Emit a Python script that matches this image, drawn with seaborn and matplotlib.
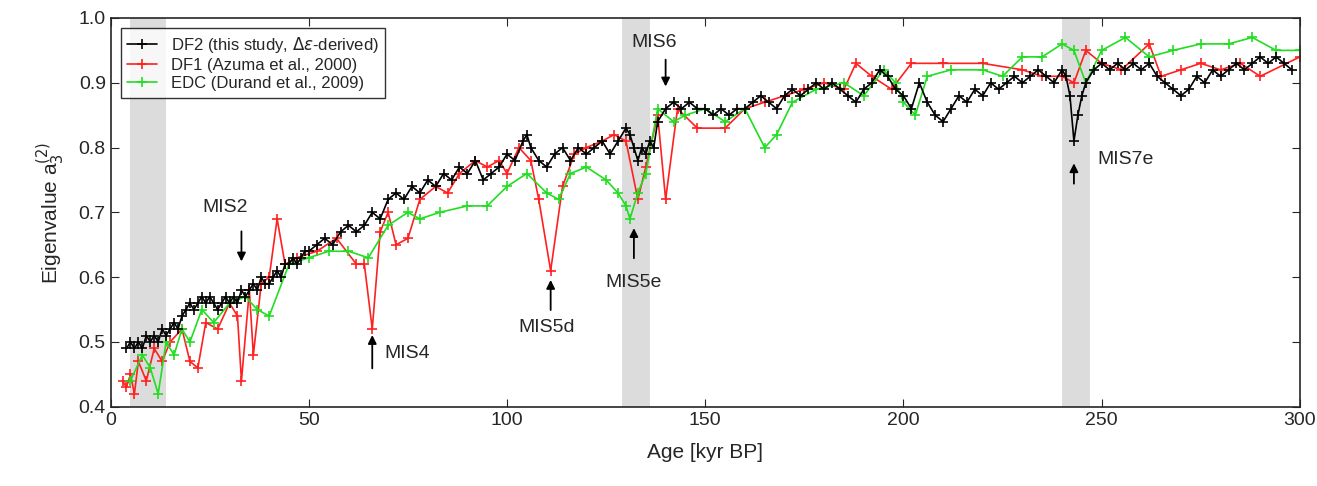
import pandas as pd
import matplotlib.pyplot as plt
import seaborn as sns

# DF2 (dense record)
df2_age = [4, 5, 6, 7, 8, 9, 10, 11, 12, 13, 14, 15, 16, 17, 18, 19, 20, 21, 22, 23, 24, 25, 26, 27, 28, 29, 30,
           31, 32, 33, 34, 35, 36, 37, 38, 39, 40, 41, 42, 43, 44, 45, 46, 47, 48, 49, 50, 52, 54, 56, 58, 60,
           62, 64, 66, 68, 70, 72, 74, 76, 78, 80, 82, 84, 86, 88, 90, 92, 94, 96, 98, 100, 102, 104, 105, 106,
           108, 110, 112, 114, 116, 118, 120, 122, 124, 126, 128, 130, 131, 132, 133, 134, 135, 136, 137, 138,
           140, 142, 144, 146, 148, 150, 152, 154, 156, 158, 160, 162, 164, 166, 168, 170, 172, 174, 176, 178,
           180, 182, 184, 186, 188, 190, 192, 194, 196, 198, 200, 202, 204, 206, 208, 210, 212, 214, 216, 218,
           220, 222, 224, 226, 228, 230, 232, 234, 236, 238, 240, 241, 242, 243, 244, 245, 246, 248, 250, 252,
           254, 256, 258, 260, 262, 264, 266, 268, 270, 272, 274, 276, 278, 280, 282, 284, 286, 288, 290, 292,
           294, 296, 298]
df2_val = [0.49, 0.50, 0.49, 0.50, 0.49, 0.51, 0.50, 0.51, 0.50, 0.52, 0.51, 0.52, 0.53, 0.52, 0.54, 0.55, 0.56,
           0.55, 0.56, 0.57, 0.56, 0.57, 0.56, 0.55, 0.56, 0.57, 0.56, 0.57, 0.56, 0.58, 0.57, 0.58, 0.59, 0.58,
           0.60, 0.59, 0.59, 0.60, 0.61, 0.60, 0.62, 0.62, 0.63, 0.62, 0.63, 0.64, 0.64, 0.65, 0.66, 0.65, 0.67,
           0.68, 0.67, 0.68, 0.70, 0.69, 0.72, 0.73, 0.72, 0.74, 0.73, 0.75, 0.74, 0.76, 0.75, 0.77, 0.76, 0.78,
           0.75, 0.76, 0.77, 0.79, 0.78, 0.81, 0.82, 0.80, 0.78, 0.77, 0.79, 0.80, 0.78, 0.80, 0.79, 0.80, 0.81,
           0.79, 0.81, 0.83, 0.82, 0.80, 0.78, 0.80, 0.79, 0.81, 0.80, 0.84, 0.86, 0.87, 0.86, 0.87, 0.86, 0.86,
           0.85, 0.86, 0.85, 0.86, 0.86, 0.87, 0.88, 0.87, 0.86, 0.88, 0.89, 0.88, 0.89, 0.90, 0.89, 0.90, 0.89,
           0.88, 0.87, 0.89, 0.90, 0.92, 0.91, 0.89, 0.88, 0.86, 0.90, 0.87, 0.85, 0.84, 0.86, 0.88, 0.87, 0.89,
           0.88, 0.90, 0.89, 0.90, 0.91, 0.90, 0.91, 0.92, 0.91, 0.90, 0.92, 0.91, 0.88, 0.81, 0.85, 0.88, 0.90,
           0.92, 0.93, 0.92, 0.93, 0.92, 0.93, 0.92, 0.93, 0.91, 0.90, 0.89, 0.88, 0.89, 0.91, 0.90, 0.92, 0.91,
           0.92, 0.93, 0.92, 0.93, 0.94, 0.93, 0.94, 0.93, 0.92]

# DF1 (Azuma et al., 2000)
df1_age = [3, 4, 5, 6, 7, 9, 11, 13, 15, 18, 20, 22, 24, 27, 30, 32, 33, 35, 36, 38, 40, 42, 44, 47, 52, 57, 62,
           64, 66, 68, 70, 72, 75, 78, 82, 85, 88, 92, 95, 98, 100, 103, 106, 108, 111, 114, 117, 120, 124, 127,
           130, 133, 135, 138, 140, 143, 148, 155, 160, 165, 170, 175, 180, 185, 188, 192, 197, 202, 210, 220,
           230, 235, 240, 243, 246, 250, 255, 262, 265, 270, 275, 280, 285, 290, 300]
df1_val = [0.44, 0.43, 0.45, 0.42, 0.47, 0.44, 0.49, 0.47, 0.50, 0.52, 0.47, 0.46, 0.53, 0.52, 0.56, 0.54, 0.44,
           0.58, 0.48, 0.59, 0.60, 0.69, 0.62, 0.63, 0.64, 0.66, 0.62, 0.62, 0.52, 0.67, 0.70, 0.65, 0.66, 0.72,
           0.74, 0.73, 0.76, 0.78, 0.77, 0.78, 0.76, 0.80, 0.78, 0.72, 0.61, 0.74, 0.79, 0.80, 0.81, 0.82, 0.81,
           0.72, 0.77, 0.85, 0.72, 0.86, 0.83, 0.83, 0.86, 0.87, 0.88, 0.89, 0.90, 0.89, 0.93, 0.91, 0.89, 0.93,
           0.93, 0.93, 0.92, 0.91, 0.91, 0.90, 0.95, 0.93, 0.92, 0.96, 0.91, 0.92, 0.93, 0.92, 0.93, 0.91, 0.94]

# EDC (Durand et al., 2009)
edc_age = [5, 8, 10, 12, 14, 16, 18, 20, 23, 26, 30, 34, 37, 40, 45, 50, 55, 60, 65, 70, 75, 78, 83, 90, 95,
           100, 105, 110, 113, 116, 120, 125, 128, 130, 131, 133, 135, 138, 142, 145, 150, 155, 160, 165, 168,
           172, 178, 185, 190, 195, 198, 200, 203, 206, 212, 220, 225, 230, 235, 240, 243, 246, 250, 256, 262,
           268, 275, 282, 288, 294, 300]
edc_val = [0.44, 0.48, 0.46, 0.42, 0.50, 0.48, 0.52, 0.50, 0.55, 0.53, 0.56, 0.57, 0.55, 0.54, 0.62, 0.63, 0.64,
           0.64, 0.63, 0.68, 0.70, 0.69, 0.70, 0.71, 0.71, 0.74, 0.76, 0.73, 0.72, 0.76, 0.77, 0.75, 0.73, 0.71,
           0.69, 0.73, 0.76, 0.86, 0.84, 0.85, 0.86, 0.84, 0.86, 0.80, 0.82, 0.87, 0.89, 0.90, 0.88, 0.92, 0.90,
           0.87, 0.85, 0.91, 0.92, 0.92, 0.91, 0.94, 0.94, 0.96, 0.95, 0.90, 0.95, 0.97, 0.94, 0.95, 0.96, 0.96,
           0.97, 0.95, 0.95]

bands = [(5, 14), (129, 136), (240, 247)]

sns.set_style("ticks")
plt.rcParams['font.family'] = ['Liberation Sans', 'DejaVu Sans']
plt.rcParams['mathtext.fontset'] = 'dejavusans'

fig, ax = plt.subplots(figsize=(13.17, 4.86), dpi=100)
fig.subplots_adjust(left=0.084, right=0.987, top=0.963, bottom=0.163)

for a, b in bands:
    ax.axvspan(a, b, color='#dcdcdc', lw=0, zorder=0)

series = [
    ("DF1 (Azuma et al., 2000)", df1_age, df1_val, "#ff2020"),
    ("EDC (Durand et al., 2009)", edc_age, edc_val, "#22dd22"),
    ("DF2 (this study, $\\Delta\\varepsilon$-derived)", df2_age, df2_val, "black"),
]
for name, x, y, c in series:
    d = pd.DataFrame({"age": x, "val": y})
    sns.lineplot(data=d, x="age", y="val", ax=ax, color=c, marker="+", markersize=7,
                 markeredgewidth=1.2, markeredgecolor=c, lw=1.2, sort=False,
                 estimator=None, label=name)

h, l = ax.get_legend_handles_labels()
order = [2, 0, 1]
ax.legend([h[i] for i in order], [l[i] for i in order], loc="upper left", fontsize=12,
          frameon=True, fancybox=False, edgecolor="black", borderaxespad=0.6,
          handlelength=1.8, labelspacing=0.2)

arrow = dict(arrowstyle="-|>,head_width=0.25,head_length=0.5", color="black", lw=1.3)
ax.annotate("", xy=(33, 0.62), xytext=(33, 0.675), arrowprops=arrow)
ax.text(29, 0.70, "MIS2", fontsize=14, ha="center")
ax.annotate("", xy=(66, 0.515), xytext=(66, 0.455), arrowprops=arrow)
ax.text(69, 0.475, "MIS4", fontsize=14)
ax.annotate("", xy=(111, 0.60), xytext=(111, 0.545), arrowprops=arrow)
ax.text(110, 0.515, "MIS5d", fontsize=14, ha="center")
ax.annotate("", xy=(132, 0.68), xytext=(132, 0.625), arrowprops=arrow)
ax.text(132, 0.585, "MIS5e", fontsize=14, ha="center")
ax.annotate("", xy=(140, 0.89), xytext=(140, 0.94), arrowprops=arrow)
ax.text(137, 0.955, "MIS6", fontsize=14, ha="center")
ax.annotate("", xy=(243, 0.78), xytext=(243, 0.74), arrowprops=arrow)
ax.text(249, 0.775, "MIS7e", fontsize=14)

ax.set_xlim(0, 300)
ax.set_ylim(0.4, 1.0)
ax.set_xticks(range(0, 301, 50))
ax.set_yticks([0.4, 0.5, 0.6, 0.7, 0.8, 0.9, 1.0])
ax.set_xlabel("Age [kyr BP]", fontsize=15, labelpad=10)
ax.set_ylabel("Eigenvalue a$_3^{(2)}$", fontsize=15, labelpad=8)
ax.tick_params(direction="in", top=True, right=True, labelsize=14, length=6)
for s in ax.spines.values():
    s.set_linewidth(1.2)

fig.savefig("out.png", dpi=100)
